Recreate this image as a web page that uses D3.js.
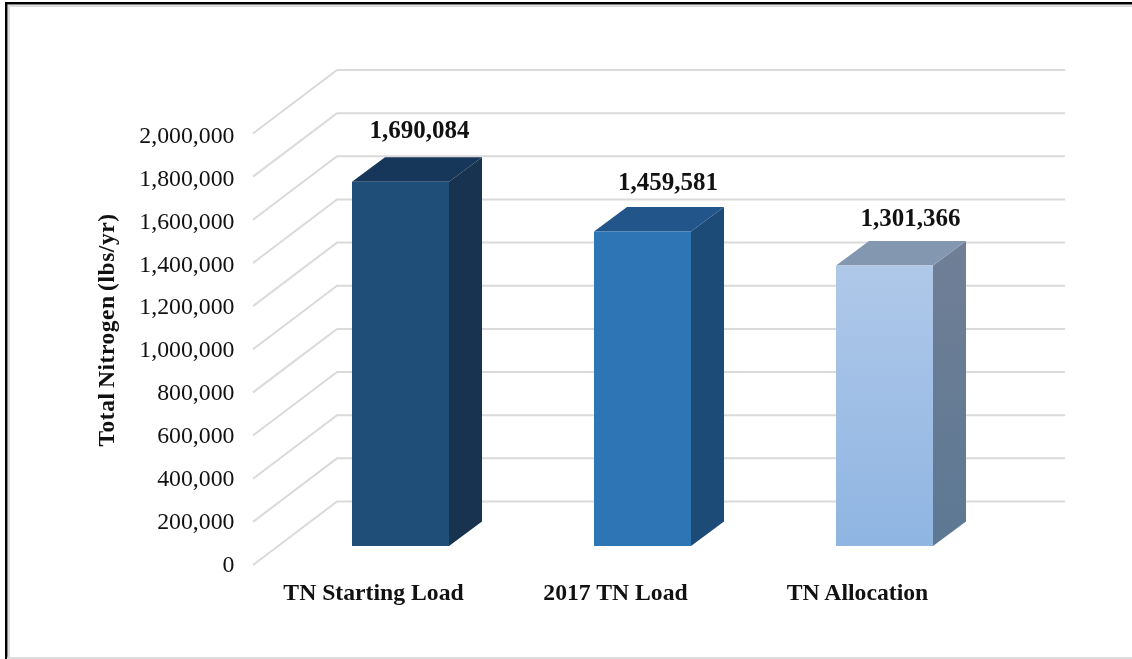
<!DOCTYPE html>
<html>
<head>
<meta charset="utf-8">
<script src="https://cdn.jsdelivr.net/npm/d3@7"></script>
<style>
	html, body { margin: 0; padding: 0; background: #fff; }
	svg { display: block; filter: blur(0.4px); }
	text { font-family: "Liberation Serif", serif; fill: #111; }
	.tick-label { font-size: 23.8px; }
	.cat-label, .value-label, .axis-title { font-weight: bold; }
	.cat-label { font-size: 23.7px; }
	.value-label { font-size: 25px; }
	.axis-title { font-size: 23.5px; letter-spacing: 0.55px; word-spacing: -2px; }
</style>
</head>
<body>
<div id="graphic"></div>
<script>
// values
const categories = ['TN Starting Load', '2017 TN Load', 'TN Allocation'];
const values = [1690084, 1459581, 1301366];
const tickValues = [0, 200000, 400000, 600000, 800000, 1000000, 1200000, 1400000, 1600000, 1800000, 2000000];
const yAxisLabel = 'Total Nitrogen (lbs/yr)';

const frontColours = ['#1F4E79', '#2E75B6', 'url(#grad-front)'];
const topColours = ['#17375A', '#22558A', '#8497B0'];
const sideColours = ['#173350', '#1D4B78', 'url(#grad-side)'];

const width = 1132, height = 659;

const svg = d3.select('#graphic')
	.append('svg')
	.attr('width', width)
	.attr('height', height);

// gradients for the third bar
const defs = svg.append('defs');
function addGradient(id, from, to) {
	const g = defs.append('linearGradient').attr('id', id).attr('x1', 0).attr('y1', 0).attr('x2', 0).attr('y2', 1);
	g.append('stop').attr('offset', '0%').attr('stop-color', from);
	g.append('stop').attr('offset', '100%').attr('stop-color', to);
}
addGradient('grad-front', '#AFC8E9', '#8FB5E2');
addGradient('grad-side', '#707F96', '#5D7893');

// image frame: black top and left, faint grey inside and along the bottom
svg.append('rect').attr('x', 7).attr('y', 4).attr('width', 1125).attr('height', 3).attr('fill', '#ddd');
svg.append('rect').attr('x', 7).attr('y', 4).attr('width', 3).attr('height', 655).attr('fill', '#ddd');
svg.append('rect').attr('x', 5).attr('y', 2).attr('width', 1127).attr('height', 2.4).attr('fill', '#000');
svg.append('rect').attr('x', 5).attr('y', 2).attr('width', 2.4).attr('height', 657).attr('fill', '#000');
svg.append('rect').attr('x', 7).attr('y', 657).attr('width', 1125).attr('height', 2).attr('fill', '#ddd');

// scales: back wall, front of the bars, tick label baselines
const yWall = d3.scaleLinear().domain([0, 2000000]).range([501.5, 70]);
const yFront = d3.scaleLinear().domain([0, 2000000]).range([546, 115]);
const yLabel = d3.scaleLinear().domain([0, 2000000]).range([571.5, 143]);
const x = d3.scalePoint().domain(categories).range([400.5, 884.5]);

const wallLeft = 337, wallRight = 1065;
const floorDx = -84, floorDy = 63.5;
const barWidth = 97, depthX = 33, depthY = -24.5;

// gridlines on wall and floor edge
const grid = svg.append('g').attr('fill', 'none').attr('stroke', '#DADADA').attr('stroke-width', 2);
grid.selectAll('path')
	.data(tickValues)
	.join('path')
	.attr('d', (d) => d3.line()([
		[wallLeft + floorDx, yWall(d) + floorDy],
		[wallLeft, yWall(d)],
		[wallRight, yWall(d)]
	]));

// tick labels
svg.append('g')
	.selectAll('text')
	.data(tickValues)
	.join('text')
	.attr('class', 'tick-label')
	.attr('x', 234.5)
	.attr('y', (d) => yLabel(d))
	.attr('text-anchor', 'end')
	.text((d) => d3.format(',')(d));

// bars
const bars = svg.append('g')
	.selectAll('g')
	.data(values)
	.join('g');

// side
bars.append('path')
	.attr('fill', (d, i) => sideColours[i])
	.attr('d', (d, i) => {
		const r = x(categories[i]) + barWidth / 2;
		return d3.line()([
			[r, yFront(d)],
			[r + depthX, yFront(d) + depthY],
			[r + depthX, yFront(0) + depthY],
			[r, yFront(0)]
		]) + 'Z';
	});

// top
bars.append('path')
	.attr('fill', (d, i) => topColours[i])
	.attr('d', (d, i) => {
		const l = x(categories[i]) - barWidth / 2;
		return d3.line()([
			[l, yFront(d)],
			[l + depthX, yFront(d) + depthY],
			[l + barWidth + depthX, yFront(d) + depthY],
			[l + barWidth, yFront(d)]
		]) + 'Z';
	});

// front
bars.append('rect')
	.attr('fill', (d, i) => frontColours[i])
	.attr('x', (d, i) => x(categories[i]) - barWidth / 2)
	.attr('y', (d) => yFront(d))
	.attr('width', barWidth)
	.attr('height', (d) => yFront(0) - yFront(d));

// value labels, hand nudged per bar like the original
const labelDx = [19, 25.5, 26];
const labelDy = [-44, -41.5, -40];
svg.append('g')
	.selectAll('text')
	.data(values)
	.join('text')
	.attr('class', 'value-label')
	.attr('x', (d, i) => x(categories[i]) + labelDx[i])
	.attr('y', (d, i) => yFront(d) + labelDy[i])
	.attr('text-anchor', 'middle')
	.text((d) => d3.format(',')(d));

// category labels
svg.append('g')
	.selectAll('text')
	.data(categories)
	.join('text')
	.attr('class', 'cat-label')
	.attr('x', (d) => x(d) - 27)
	.attr('y', 600)
	.attr('text-anchor', 'middle')
	.text((d) => d);

// y axis title
svg.append('text')
	.attr('class', 'axis-title')
	.attr('transform', 'translate(114,330) rotate(-90)')
	.attr('text-anchor', 'middle')
	.text(yAxisLabel);
</script>
</body>
</html>
